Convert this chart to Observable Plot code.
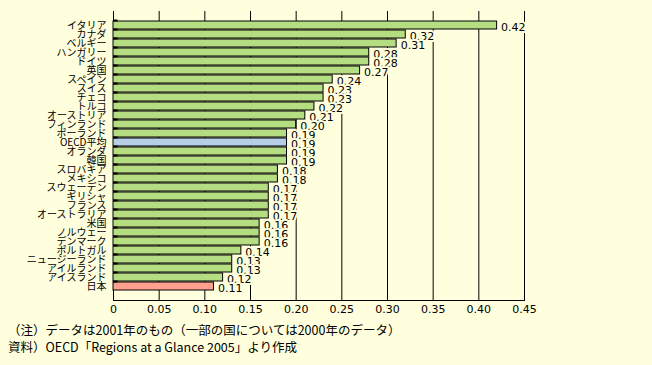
<!DOCTYPE html>
<html><head><meta charset="utf-8">
<script src="https://cdn.jsdelivr.net/npm/d3@7"></script>
<script src="https://cdn.jsdelivr.net/npm/@observablehq/plot@0.6"></script>
<style>
html,body{margin:0;padding:0;background:#ffffdd;}
#wrap{width:652px;height:365px;overflow:hidden;background:#ffffdd;}
.note{font-family:'Noto Sans CJK JP',sans-serif;font-size:12.5px;line-height:17px;color:#000;padding-left:8px;}
</style></head>
<body><div id="wrap"><div id="chart"></div>
<div class="note" style="padding-top:3px">（注）データは2001年のもの（一部の国については2000年のデータ）</div>
<div class="note">資料）OECD「Regions at a Glance 2005」より作成</div>
</div>
<script>
const countries = ["イタリア","カナダ","ベルギー","ハンガリー","ドイツ","英国","スペイン","スイス","チェコ","トルコ","オーストリア","フィンランド","ポーランド","OECD平均","オランダ","韓国","スロバキア","メキシコ","スウェーデン","ギリシャ","フランス","オーストラリア","米国","ノルウェー","デンマーク","ポルトガル","ニュージーランド","アイルランド","アイスランド","日本"];
const values = [0.42,0.32,0.31,0.28,0.28,0.27,0.24,0.23,0.23,0.22,0.21,0.20,0.19,0.19,0.19,0.19,0.18,0.18,0.17,0.17,0.17,0.17,0.16,0.16,0.16,0.14,0.13,0.13,0.12,0.11];
const xTicks = [0,0.05,0.10,0.15,0.20,0.25,0.30,0.35,0.40,0.45];
const xTickLabels = ["0","0.05","0.10","0.15","0.20","0.25","0.30","0.35","0.40","0.45"];

const bg = "#ffffdd";
const data = countries.map((c,i)=>({country:c, value:values[i]}));
const colorOf = c => c === "OECD平均" ? "#b6cfe6" : c === "日本" ? "#ff9f8e" : "#b5dd82";

const chart = Plot.plot({
  width: 652, height: 318,
  marginTop: 11, marginBottom: 18, marginLeft: 113, marginRight: 128,
  style: {background: "transparent", fontFamily: "'Noto Sans CJK JP', sans-serif", fontSize: "11px", color: "#000"},
  x: {domain: [0, 0.45], label: null},
  y: {domain: countries, padding: 0.15, label: null},
  marks: [
    Plot.ruleX(xTicks, {stroke: "#000", strokeWidth: 1}),
    Plot.barX(data, {x: "value", y: "country", fill: d => colorOf(d.country), stroke: "#000", strokeWidth: 1}),
    Plot.ruleY(countries, {y: d => d, x1: 0, x2: xTicks[1] / 10, dy: -5, stroke: "#000", strokeWidth: 2}),
    Plot.text(data, {x: "value", y: "country", text: d => d.value.toFixed(2), textAnchor: "start", dx: 4, dy: 2, fill: "#000", stroke: bg, strokeWidth: 4, fontSize: 11, fontFamily: "'DejaVu Sans', sans-serif"}),
    Plot.axisX({ticks: xTicks, tickFormat: (d,i) => xTickLabels[i], tickSize: 0, tickPadding: 5, fontSize: 11, fontFamily: "'DejaVu Sans', sans-serif"}),
    Plot.axisY({tickSize: 0, tickPadding: 7, fontSize: 10}),
    Plot.frame({anchor: "bottom", stroke: "#000"})
  ]
});
document.getElementById("chart").appendChild(chart);
</script>
</body></html>
